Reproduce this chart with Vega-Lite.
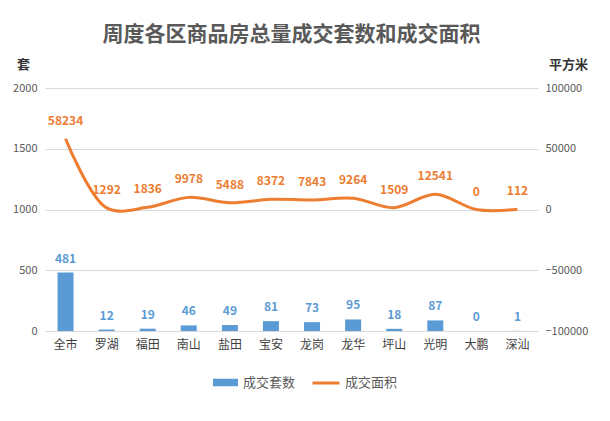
{
  "$schema": "https://vega.github.io/schema/vega-lite/v6.json",
  "autosize": {"type": "none"},
  "width": 493,
  "height": 243,
  "padding": {"left": 45, "top": 88, "right": 72, "bottom": 90},
  "background": "white",
  "config": {
    "font": "Noto Sans CJK SC",
    "view": {"stroke": null},
    "axis": {"domain": false, "ticks": false, "labelColor": "#595959", "labelFontSize": 11, "titleFontSize": 13, "titleFontWeight": "bold", "titleColor": "#333333"}
  },
  "title": {
    "text": "周度各区商品房总量成交套数和成交面积",
    "fontSize": 21,
    "fontWeight": "bold",
    "color": "#595959",
    "anchor": "middle",
    "offset": 13
  },
  "data": {
    "values": [
      {"district": "全市", "count": 481, "area": 58234},
      {"district": "罗湖", "count": 12, "area": 1292},
      {"district": "福田", "count": 19, "area": 1836},
      {"district": "南山", "count": 46, "area": 9978},
      {"district": "盐田", "count": 49, "area": 5488},
      {"district": "宝安", "count": 81, "area": 8372},
      {"district": "龙岗", "count": 73, "area": 7843},
      {"district": "龙华", "count": 95, "area": 9264},
      {"district": "坪山", "count": 18, "area": 1509},
      {"district": "光明", "count": 87, "area": 12541},
      {"district": "大鹏", "count": 0, "area": 0},
      {"district": "深汕", "count": 1, "area": 112}
    ]
  },
  "encoding": {
    "x": {
      "field": "district",
      "type": "nominal",
      "sort": null,
      "scale": {"paddingInner": 0, "paddingOuter": 0},
      "axis": {"title": null, "labelAngle": 0, "labelFontSize": 12, "labelColor": "#404040", "labelPadding": 8, "grid": false}
    }
  },
  "layer": [
    {
      "encoding": {
        "y": {
          "field": "count",
          "type": "quantitative",
          "scale": {"domain": [0, 2000]},
          "axis": {
            "title": "套",
            "orient": "left",
            "values": [0, 500, 1000, 1500, 2000],
            "format": "d",
            "grid": true,
            "gridColor": "#d9d9d9",
            "labelPadding": 8,
            "titleAngle": 0,
            "titleX": -22,
            "titleY": -24,
            "titleAlign": "center",
            "titleBaseline": "middle"
          }
        }
      },
      "layer": [
        {
          "mark": {"type": "bar", "size": 16, "color": "#5B9BD5"},
          "encoding": {
            "fill": {
              "datum": "成交套数",
              "scale": {"range": ["#5B9BD5"]},
              "legend": {
                "title": null,
                "orient": "none",
                "legendX": 167,
                "legendY": 281,
                "symbolType": "M-1,-0.3L1,-0.3L1,0.3L-1,0.3Z",
                "symbolSize": 625,
                "labelFontSize": 13,
                "labelColor": "#595959"
              }
            }
          }
        },
        {
          "mark": {"type": "text", "dy": -14, "fontWeight": "bold", "fontSize": 12, "color": "#5B9BD5"},
          "encoding": {"text": {"field": "count", "type": "quantitative"}}
        }
      ]
    },
    {
      "encoding": {
        "y": {
          "field": "area",
          "type": "quantitative",
          "scale": {"domain": [-100000, 100000]},
          "axis": {
            "title": "平方米",
            "orient": "right",
            "values": [-100000, -50000, 0, 50000, 100000],
            "format": "d",
            "grid": false,
            "labelPadding": 7,
            "titleAngle": 0,
            "titleX": 30,
            "titleY": -24,
            "titleAlign": "center",
            "titleBaseline": "middle"
          }
        }
      },
      "layer": [
        {
          "mark": {"type": "line", "interpolate": "catmull-rom", "strokeWidth": 3, "color": "#ED7D31"},
          "encoding": {
            "stroke": {
              "datum": "成交面积",
              "scale": {"range": ["#ED7D31"]},
              "legend": {
                "title": null,
                "orient": "none",
                "legendX": 266,
                "legendY": 280,
                "symbolType": "stroke",
                "symbolSize": 729,
                "symbolStrokeWidth": 3,
                "labelFontSize": 13,
                "labelColor": "#595959"
              }
            }
          }
        },
        {
          "mark": {"type": "text", "dy": -18, "fontWeight": "bold", "fontSize": 12, "color": "#ED7D31"},
          "encoding": {"text": {"field": "area", "type": "quantitative", "format": "d"}}
        }
      ]
    }
  ],
  "resolve": {"scale": {"y": "independent"}}
}
